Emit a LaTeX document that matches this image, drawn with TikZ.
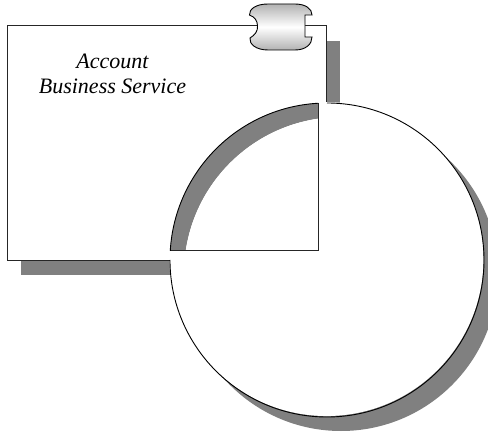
\documentclass[tikz,border=0pt]{standalone}
\usepackage{fontspec}
\setmainfont{Liberation Serif}
\tikzset{
  shadowfill/.style={fill=black!50,draw=none},
  outline/.style={draw=black!85,line width=1pt,line join=miter},
  arcline/.style={draw=black,line width=0.9pt},
  plug/.style={draw=black,line width=0.9pt,top color=black!30,bottom color=black!30,middle color=white},
  caption/.style={font=\itshape\fontsize{22}{25}\selectfont,align=center,inner sep=0pt}
}
\begin{document}
\begin{tikzpicture}[x=1pt,y=-1pt]
\useasboundingbox (0,0) rectangle (488,433);
\fill[white] (0,0) rectangle (488,433);
% shadows
\fill[shadowfill] (21,41) rectangle (200,275);
\fill[shadowfill] (200,41) rectangle (340,130);
\fill[shadowfill] (341,274) circle[radius=157];
% main outline shape
\fill[white] (7,26) -- (326.5,26) -- (326.5,102) arc[start angle=-90,end angle=180,radius=157] -- (170,261) -- (7,261) -- cycle;
% gray crescent of the quarter
\begin{scope}
  \clip (150,90) rectangle (318,251);
  \fill[shadowfill,even odd rule] (327,260) circle[radius=157] (341,274) circle[radius=157];
  \fill[white] (341,274) circle[radius=157];
\end{scope}
% outlines
\coordinate (plugL) at (257,26);
\coordinate (plugR) at (305,26);
\draw[outline] (plugL) -- (7,26) -- (7,261) -- (170,261);
\draw[outline] (plugR) -- (326.5,26) -- (326.5,102);
\draw[arcline] (170,260) arc[start angle=180,end angle=-90,radius=157];
\draw[outline] (318,103) -- (318,251) -- (170,251);
\begin{scope}
  \clip (160,90) rectangle (318,251);
  \draw[arcline] (327,260) circle[radius=157];
\end{scope}
% connector plug
\path[plug] (268,4) -- (295,4) .. controls (306,4) and (312,9) .. (312,15) -- (305,15) -- (305,37) -- (312,37) .. controls (312,44) and (306,50) .. (295,50) -- (268,50) .. controls (256,50) and (249,44) .. (250,38) .. controls (255,35) and (258,31) .. (257.5,26) .. controls (257.5,21) and (255,17) .. (249.5,15) .. controls (249,9) and (256,4) .. (268,4) -- cycle;
\node[caption] (label) at (112.5,74) {Account\\Business Service};
\end{tikzpicture}
\end{document}
